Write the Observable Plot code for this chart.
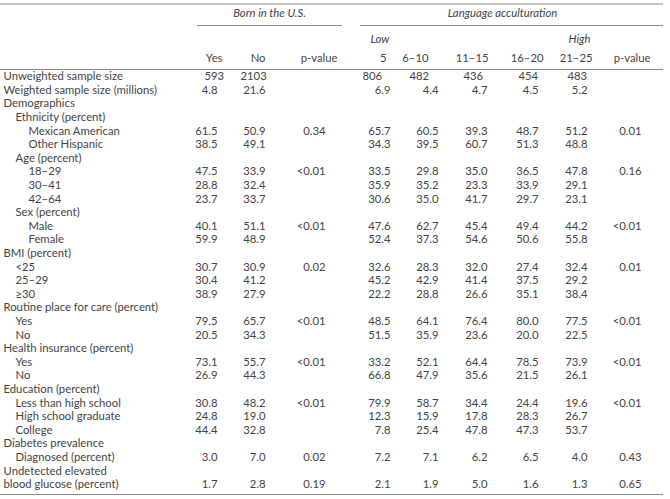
<!DOCTYPE html>
<html>
<head>
<meta charset="utf-8">
<script src="https://cdn.jsdelivr.net/npm/d3@7"></script>
<script src="https://cdn.jsdelivr.net/npm/@observablehq/plot@0.6"></script>
<style>
  html, body { margin: 0; padding: 0; background: #fff; }
</style>
</head>
<body>
<div id="chart"></div>
<script>
// ---------- data ----------
const rowLabels = [
  "Unweighted sample size", "Weighted sample size (millions)", "Demographics",
  "Ethnicity (percent)", "Mexican American", "Other Hispanic",
  "Age (percent)", "18–29", "30–41", "42–64",
  "Sex (percent)", "Male", "Female",
  "BMI (percent)", "<25", "25–29", "≥30",
  "Routine place for care (percent)", "Yes", "No",
  "Health insurance (percent)", "Yes", "No",
  "Education (percent)", "Less than high school", "High school graduate", "College",
  "Diabetes prevalence", "Diagnosed (percent)",
  "Undetected elevated", "blood glucose (percent)"
];
const rowLevels = [0,0,0, 1,2,2, 1,2,2,2, 1,2,2, 0,1,1,1, 0,1,1, 0,1,1, 0,1,1,1, 0,1, 0,0];

const n = null;
const bornYes = [593, 4.8, n, n, 61.5, 38.5, n, 47.5, 28.8, 23.7, n, 40.1, 59.9, n, 30.7, 30.4, 38.9, n, 79.5, 20.5, n, 73.1, 26.9, n, 30.8, 24.8, 44.4, n, 3.0, n, 1.7];
const bornNo  = [2103, 21.6, n, n, 50.9, 49.1, n, 33.9, 32.4, 33.7, n, 51.1, 48.9, n, 30.9, 41.2, 27.9, n, 65.7, 34.3, n, 55.7, 44.3, n, 48.2, 19.0, 32.8, n, 7.0, n, 2.8];
const bornP   = [n, n, n, n, "0.34", n, n, "<0.01", n, n, n, "<0.01", n, n, "0.02", n, n, n, "<0.01", n, n, "<0.01", n, n, "<0.01", n, n, n, "0.02", n, "0.19"];
const lang5     = [806, 6.9, n, n, 65.7, 34.3, n, 33.5, 35.9, 30.6, n, 47.6, 52.4, n, 32.6, 45.2, 22.2, n, 48.5, 51.5, n, 33.2, 66.8, n, 79.9, 12.3, 7.8, n, 7.2, n, 2.1];
const lang6_10  = [482, 4.4, n, n, 60.5, 39.5, n, 29.8, 35.2, 35.0, n, 62.7, 37.3, n, 28.3, 42.9, 28.8, n, 64.1, 35.9, n, 52.1, 47.9, n, 58.7, 15.9, 25.4, n, 7.1, n, 1.9];
const lang11_15 = [436, 4.7, n, n, 39.3, 60.7, n, 35.0, 23.3, 41.7, n, 45.4, 54.6, n, 32.0, 41.4, 26.6, n, 76.4, 23.6, n, 64.4, 35.6, n, 34.4, 17.8, 47.8, n, 6.2, n, 5.0];
const lang16_20 = [454, 4.5, n, n, 48.7, 51.3, n, 36.5, 33.9, 29.7, n, 49.4, 50.6, n, 27.4, 37.5, 35.1, n, 80.0, 20.0, n, 78.5, 21.5, n, 24.4, 28.3, 47.3, n, 6.5, n, 1.6];
const lang21_25 = [483, 5.2, n, n, 51.2, 48.8, n, 47.8, 29.1, 23.1, n, 44.2, 55.8, n, 32.4, 29.2, 38.4, n, 77.5, 22.5, n, 73.9, 26.1, n, 19.6, 26.7, 53.7, n, 4.0, n, 1.3];
const langP     = [n, n, n, n, "0.01", n, n, "0.16", n, n, n, "<0.01", n, n, "0.01", n, n, n, "<0.01", n, n, "<0.01", n, n, "<0.01", n, n, n, "0.43", n, "0.65"];

const columnHeaders = ["Yes", "No", "p-value", "5", "6–10", "11–15", "16–20", "21–25", "p-value"];
const groupHeaders = ["Born in the U.S.", "Language acculturation"];
const scaleEnds = ["Low", "High"];

// ---------- layout ----------
const W = 670, H = 499;
const labelX = [3, 15, 28];
const rowY = i => 76 + i * 13.6;
const colRight   = [217, 265, 325, 390, 438, 487, 538, 587, 641];
const colIntLeft = [204, 240, null, 362, 409, 463, 518, 567, null];
const headRight  = [222, 265, 337, 386, 428, 488, 543, 592, 650];
const headY = 58, scaleY = 39, groupY = 13;
const groupX = [269, 502];
const scaleX = [389, 590];
const fs = 11.3;

const columns = [bornYes, bornNo, bornP, lang5, lang6_10, lang11_15, lang16_20, lang21_25, langP];

const labels = rowLabels.map((label, i) => ({label, i, level: rowLevels[i]}));
const cells = [];
columns.forEach((vals, c) => {
  vals.forEach((v, i) => {
    if (v === null) return;
    let text = typeof v === "string" ? v : (i === 0 ? String(v) : v.toFixed(1));
    cells.push({c, i, text, intRow: i === 0 && colIntLeft[c] !== null});
  });
});
const heads = columnHeaders.map((h, c) => ({h, c}));
const groups = groupHeaders.map((g, k) => ({g, k}));
const ends = scaleEnds.map((s, k) => ({s, k}));

const ink = "#444";
const lineColor = "#8a8a8a";

const hRules = [
  {y: 3.5, x1: 0, x2: 663},
  {y: 25, x1: 197, x2: 342},
  {y: 25, x1: 360, x2: 663},
  {y: 69, x1: 0, x2: 663},
  {y: 494, x1: 0, x2: 663}
];

const chart = Plot.plot({
  width: W, height: H,
  margin: 0,
  x: {domain: [0, W], range: [0, W], axis: null},
  y: {domain: [0, H], range: [0, H], axis: null},
  style: {background: "#fff", fontFamily: "Lato, 'Open Sans', sans-serif"},
  marks: [
    Plot.ruleY(hRules, {y: "y", x1: "x1", x2: "x2", stroke: lineColor, strokeWidth: 1}),
    Plot.text(labels, {x: d => labelX[d.level], y: d => rowY(d.i), text: "label", textAnchor: "start", fill: ink, fontSize: fs}),
    Plot.text(cells.filter(d => !d.intRow), {x: d => colRight[d.c], y: d => rowY(d.i), text: "text", textAnchor: "end", fill: ink, fontSize: fs}),
    Plot.text(cells.filter(d => d.intRow), {x: d => colIntLeft[d.c], y: d => rowY(d.i), text: "text", textAnchor: "start", fill: ink, fontSize: fs}),
    Plot.text(heads, {x: d => headRight[d.c], y: headY, text: "h", textAnchor: "end", fill: ink, fontSize: fs, fontStyle: d => d.h === "p-value" ? "normal" : "italic"}),
    Plot.text(ends, {x: d => scaleX[d.k], y: scaleY, text: "s", textAnchor: "end", fill: ink, fontSize: fs, fontStyle: "italic"}),
    Plot.text(groups, {x: d => groupX[d.k], y: groupY, text: "g", textAnchor: "middle", fill: ink, fontSize: fs, fontStyle: "italic"})
  ]
});
document.getElementById("chart").appendChild(chart);
</script>
</body>
</html>
